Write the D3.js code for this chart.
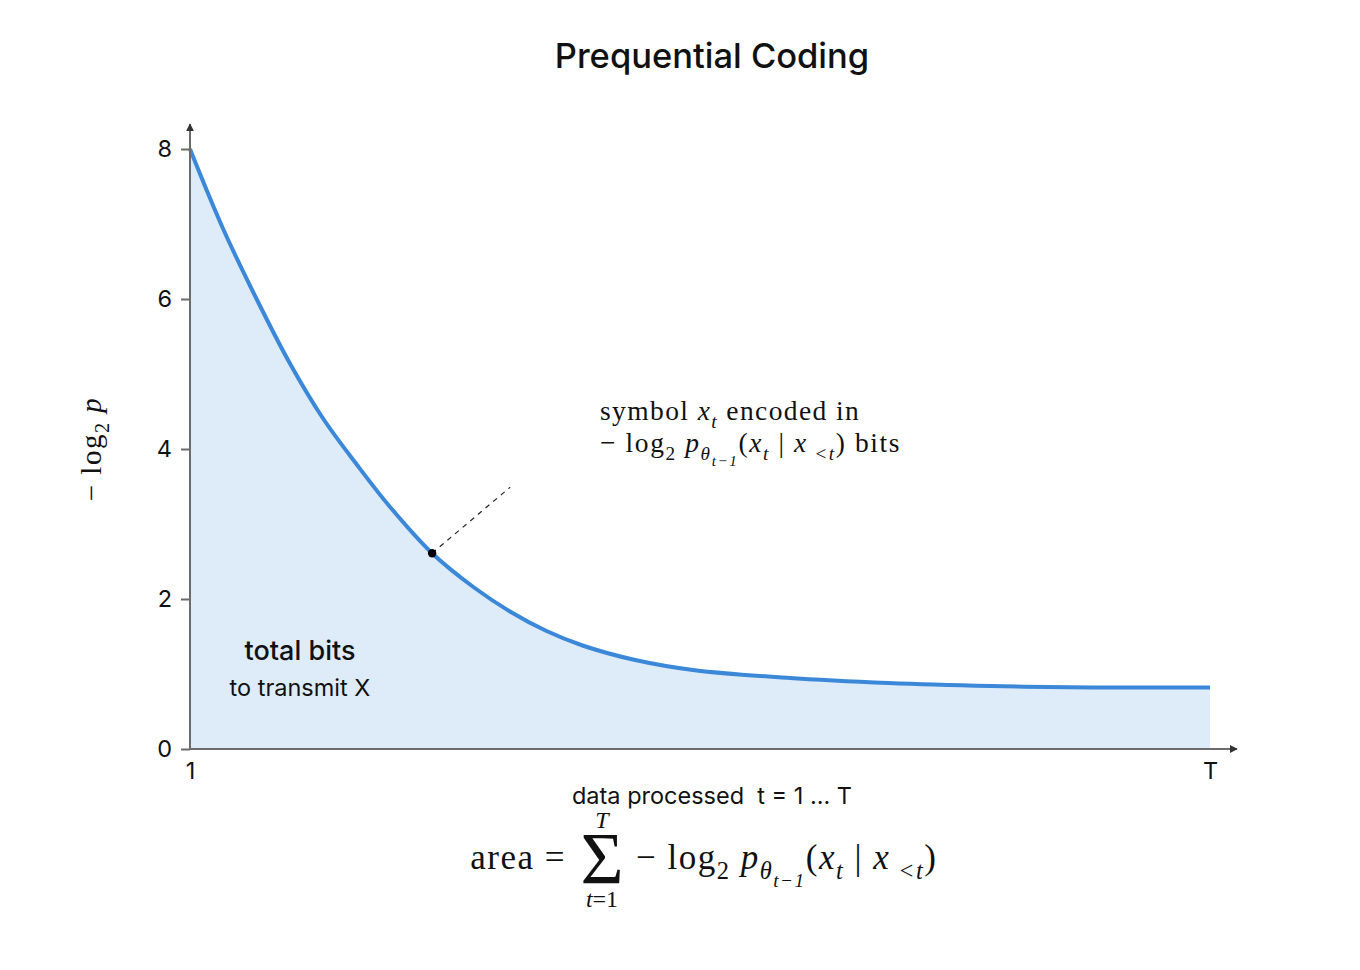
<!DOCTYPE html>
<html>
<head>
<meta charset="utf-8">
<title>Prequential Coding</title>
<script src="https://cdn.jsdelivr.net/npm/d3@7"></script>
<style>
  body { margin: 0; background: #fff; }
  text { white-space: pre; }
</style>
</head>
<body>
<script>
var width = 1360
var height = 970

// code length (bits) per symbol as data is processed, t = 1 ... T (T taken as 100)
var tValues = [1, 4.2, 7.5, 10.7, 13.9, 17.2, 20.4, 24.5, 28.5, 32.1, 35.5, 39.1, 44.1, 50, 58.9, 68.8, 78.7, 88.6, 100]
var bits = [8.0, 6.94, 5.99, 5.14, 4.41, 3.79, 3.23, 2.61, 2.16, 1.83, 1.58, 1.38, 1.19, 1.05, 0.95, 0.88, 0.84, 0.82, 0.82]
var yTicks = [0, 2, 4, 6, 8]
var xTicks = [1, 100]
var xTickLabels = ["1", "T"]
var markedIndex = 7

var data = tValues.map(function(t, i) { return {t: t, v: bits[i]} })

var svg = d3.select("body").append("svg")
  .attr("width", width)
  .attr("height", height)

var x = d3.scaleLinear().domain([1, 100]).range([190, 1210])
var y = d3.scaleLinear().domain([0, 8]).range([749, 149])

var axisColor = "#6b6b6b"
var sans = "Inter, 'Noto Sans', sans-serif"
var serif = "'Liberation Serif', 'DejaVu Serif', serif"

svg.append("defs").append("marker")
  .attr("id", "arrow")
  .attr("viewBox", "0 0 10 10")
  .attr("refX", 9).attr("refY", 5)
  .attr("markerWidth", 4).attr("markerHeight", 4)
  .attr("orient", "auto")
  .append("path")
    .attr("d", "M0,0 L10,5 L0,10 z")
    .attr("fill", "#333")

// area + line
var area = d3.area()
  .x(d => x(d.t)).y0(y(0)).y1(d => y(d.v))
  .curve(d3.curveCatmullRom.alpha(0.5))
var line = d3.line()
  .x(d => x(d.t)).y(d => y(d.v))
  .curve(d3.curveCatmullRom.alpha(0.5))

svg.append("path").datum(data)
  .attr("d", area)
  .attr("fill", "#deebf9")

svg.append("path").datum(data)
  .attr("d", line)
  .attr("fill", "none")
  .attr("stroke", "#3b88d9")
  .attr("stroke-width", 4)

// axes
var yAxis = svg.append("g")
  .attr("transform", "translate(" + x(1) + ",0)")
  .call(d3.axisLeft(y).tickValues(yTicks).tickSize(9).tickPadding(9).tickFormat(d3.format("d")))
yAxis.select(".domain").remove()
yAxis.selectAll("line").attr("stroke", axisColor).attr("stroke-width", 2)
yAxis.selectAll("text").attr("font-family", sans).attr("font-size", 23.5).attr("fill", "#111")

var xAxis = svg.append("g")
  .attr("transform", "translate(0," + y(0) + ")")
  .call(d3.axisBottom(x).tickValues(xTicks).tickSize(0).tickPadding(13)
    .tickFormat(function(d, i) { return xTickLabels[i] }))
xAxis.select(".domain").remove()
xAxis.selectAll("text").attr("font-family", sans).attr("font-size", 23.5).attr("fill", "#111")

svg.append("line")
  .attr("x1", x(1)).attr("y1", y(0)).attr("x2", x(1)).attr("y2", 124)
  .attr("stroke", axisColor).attr("stroke-width", 2)
  .attr("marker-end", "url(#arrow)")
svg.append("line")
  .attr("x1", x(1)).attr("y1", y(0)).attr("x2", 1237).attr("y2", y(0))
  .attr("stroke", axisColor).attr("stroke-width", 2)
  .attr("marker-end", "url(#arrow)")

// highlighted symbol
var mk = data[markedIndex]
svg.append("line")
  .attr("x1", x(mk.t)).attr("y1", y(mk.v))
  .attr("x2", x(mk.t) + 78).attr("y2", y(mk.v) - 66)
  .attr("stroke", "#222").attr("stroke-width", 1.2)
  .attr("stroke-dasharray", "5,5")
svg.append("circle")
  .attr("cx", x(mk.t)).attr("cy", y(mk.v)).attr("r", 4.2)
  .attr("fill", "#000")

// math text helper: parts are [string, italic, level]
function mathText(parent, px, py, size, parts, anchor, spacing) {
  var offs = [0, 0.28, 0.5]
  var scl = [1, 0.7, 0.55]
  var t = parent.append("text")
    .attr("x", px).attr("y", py)
    .attr("font-family", serif)
    .attr("font-size", size)
    .attr("fill", "#111")
    .attr("letter-spacing", spacing || 0)
    .attr("text-anchor", anchor || "start")
  var cur = 0
  parts.forEach(function(p) {
    var lvl = p[2] || 0
    var off = offs[lvl] * size
    var sp = t.append("tspan")
      .attr("dy", off - cur)
      .attr("font-size", size * scl[lvl])
      .text(p[0])
    if (p[1]) sp.attr("font-style", "italic")
    cur = off
  })
  return t
}

var logp = [
  ["\u2212 log", false, 0], ["2", false, 1], [" ", false, 0], ["p", true, 0],
  ["\u03b8", true, 1], ["t\u22121", true, 2],
  ["(", false, 0], ["x", true, 0], ["t", true, 1], [" | ", false, 0],
  ["x", true, 0], [" <t", true, 1], [")", false, 0]
]

// title
svg.append("text")
  .attr("x", 712).attr("y", 68)
  .attr("text-anchor", "middle")
  .attr("font-family", sans).attr("font-size", 34.5).attr("font-weight", 500)
  .attr("fill", "#111")
  .text("Prequential Coding")

// y label
var yl = svg.append("g").attr("transform", "translate(101,449) rotate(-90)")
mathText(yl, 0, 0, 29, [["\u2212 log", false, 0], ["2", false, 1], [" p", true, 0]], "middle", 1.5)

// annotation
mathText(svg, 600, 420, 27.5, [["symbol ", false, 0], ["x", true, 0], ["t", true, 1], [" encoded in", false, 0]], "start", 1.4)
mathText(svg, 600, 452, 27.5, logp.concat([[" bits", false, 0]]), "start", 1.6)

// inside area
svg.append("text")
  .attr("x", 300).attr("y", 660)
  .attr("text-anchor", "middle")
  .attr("font-family", sans).attr("font-size", 27).attr("font-weight", 500)
  .attr("fill", "#111")
  .text("total bits")
svg.append("text")
  .attr("x", 300).attr("y", 696)
  .attr("text-anchor", "middle")
  .attr("font-family", sans).attr("font-size", 23.5)
  .attr("fill", "#111")
  .text("to transmit X")

// x label
svg.append("text")
  .attr("x", 712).attr("y", 804)
  .attr("text-anchor", "middle")
  .attr("font-family", sans).attr("font-size", 23.5)
  .attr("fill", "#111")
  .text("data processed  t = 1 ... T")

// area formula
mathText(svg, 566, 869, 35, [["area =", false, 0]], "end", 1.5)
svg.append("text")
  .attr("x", 602).attr("y", 884)
  .attr("text-anchor", "middle")
  .attr("font-family", serif).attr("font-size", 74)
  .attr("fill", "#111")
  .text("\u03a3")
mathText(svg, 602, 828, 24, [["T", true, 0]], "middle")
mathText(svg, 602, 907, 24, [["t", true, 0], ["=1", false, 0]], "middle")
mathText(svg, 636, 869, 35, logp, "start", 1.5)
</script>
</body>
</html>
